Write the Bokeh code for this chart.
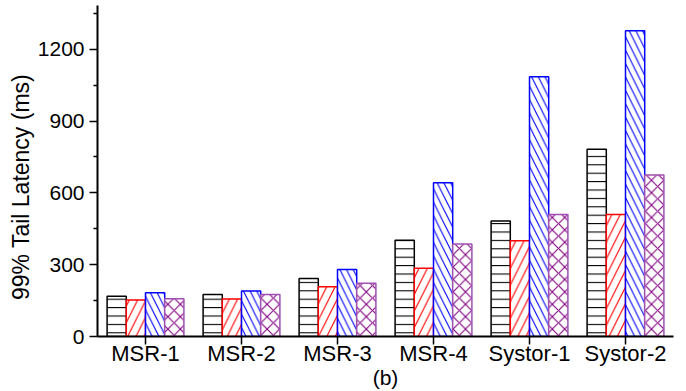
from bokeh.plotting import figure
from bokeh.models import ColumnDataSource, FixedTicker
from bokeh.transform import dodge
from bokeh.embed import file_html
from bokeh.resources import INLINE

groups = ["MSR-1", "MSR-2", "MSR-3", "MSR-4", "Systor-1", "Systor-2"]
series_a = [168, 175, 242, 402, 483, 782]
series_b = [152, 157, 208, 285, 400, 510]
series_c = [183, 190, 280, 642, 1085, 1278]
series_d = [158, 175, 222, 387, 510, 675]
y_ticks = [0, 300, 600, 900, 1200]
y_minor = [150, 450, 750, 1050, 1350]

source = ColumnDataSource(data=dict(group=groups, a=series_a, b=series_b, c=series_c, d=series_d))

FONT = "Liberation Sans"

p = figure(x_range=groups, y_range=(0, 1383), width=680, height=391,
           output_backend="svg", toolbar_location=None,
           min_border_left=97, min_border_right=7, min_border_top=5, min_border_bottom=54)

styles = [
    ("a", -0.3, "black", "black", "horizontal_line", 8.4),
    ("b", -0.1, "red", "red", "right_diagonal_line", 16.6),
    ("c", 0.1, "blue", "blue", "left_diagonal_line", 13.4),
    ("d", 0.3, "#a050b0", "#800080", "diagonal_cross", 12.4),
]
for col, off, lc, hc, hp, sc in styles:
    p.vbar(x=dodge("group", off, range=p.x_range), top=col, width=0.2, bottom=0,
           source=source, fill_color="white", line_color=lc, line_width=1.5,
           hatch_pattern=hp, hatch_color=hc, hatch_scale=sc, hatch_weight=1.1)

p.outline_line_color = None
p.xgrid.grid_line_color = None
p.ygrid.grid_line_color = None

p.yaxis.ticker = FixedTicker(ticks=y_ticks, minor_ticks=y_minor)
p.yaxis.axis_label = "99% Tail Latency (ms)" + "\u00a0" * 5
p.xaxis.axis_label = "(b)"

for ax in (p.xaxis, p.yaxis):
    ax.axis_line_width = 2
    ax.axis_line_color = "black"
    ax.major_tick_line_width = 1.5
    ax.minor_tick_line_width = 1.5
    ax.major_tick_in = 0
    ax.major_tick_out = 8
    ax.minor_tick_in = 0
    ax.minor_tick_out = 4
    ax.major_label_text_font = FONT
    ax.major_label_text_color = "black"
    ax.axis_label_text_font = FONT
    ax.axis_label_text_font_style = "normal"
    ax.axis_label_text_color = "black"

p.xaxis.major_label_text_font_size = "22px"
p.yaxis.major_label_text_font_size = "21px"
p.xaxis.major_label_standoff = -4
p.yaxis.major_label_standoff = 5
p.xaxis.axis_label_text_font_size = "21px"
p.yaxis.axis_label_text_font_size = "23px"
p.xaxis.axis_label_standoff = -3
p.yaxis.axis_label_standoff = 1
p.xaxis.minor_tick_line_color = None

open("out.html", "w").write(file_html(p, INLINE))
